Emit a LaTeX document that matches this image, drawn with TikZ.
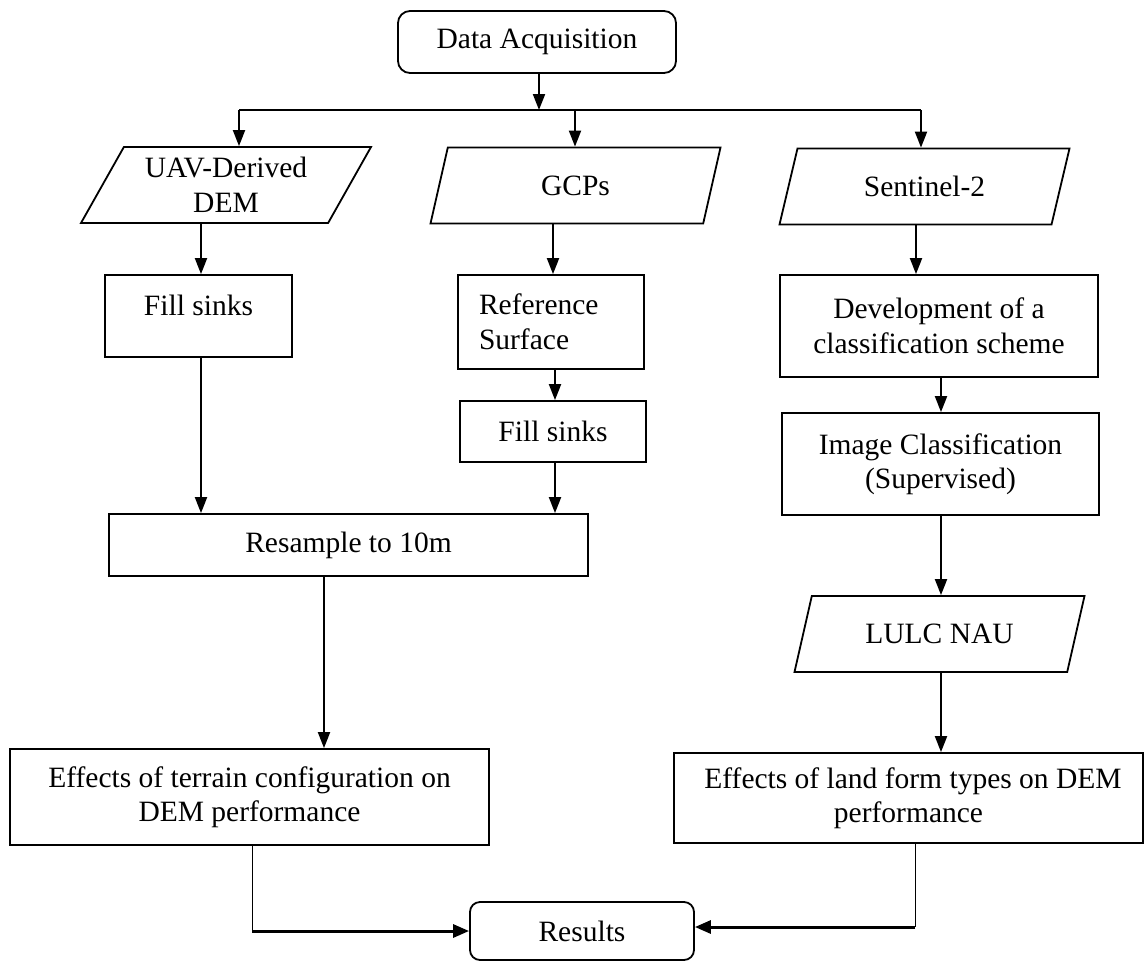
\documentclass[tikz,border=0pt]{standalone}
\usepackage{fontspec}
\setmainfont{Liberation Serif}
\usetikzlibrary{arrows.meta,shapes.geometric}
\begin{document}
\begin{tikzpicture}[x=1pt,y=-1pt,
  txt/.style={font=\fontsize{29.5pt}{34.5pt}\selectfont, align=center},
  box/.style={txt, draw, line width=1.8pt, inner sep=2pt},
  term/.style={box, rounded corners=12pt},
  para/.style={txt, draw, line width=1.8pt, shape=trapezium, trapezium left angle=54,
    trapezium right angle=126, trapezium stretches body=true, inner sep=2pt,
    minimum width=290pt, minimum height=76pt},
  arr/.style={line width=2pt, -{Triangle[length=16pt,width=12pt]}},
  ln/.style={line width=2pt},
  thin/.style={line width=1pt},
  thick/.style={line width=3pt, -{Triangle[length=16pt,width=13pt]}}
]
\useasboundingbox (0,0) rectangle (1146,962);

% nodes
\node[term, minimum width=278pt, minimum height=62pt] (da) at (537,42) {Data Acquisition};
\node[para] (uav) at (226,185) {UAV-Derived\\DEM};
\node[para] (gcp) at (575.5,185.5) {GCPs};
\node[para] (sen) at (924.5,186.5) {Sentinel-2};
\node[box, minimum width=187pt, minimum height=82pt, text depth=22pt] (fs1) at (198.5,316) {Fill sinks};
\node[box, minimum width=186pt, minimum height=94pt, text width=144pt, align=left] (ref) at (551,322) {Reference\\Surface};
\node[box, minimum width=318pt, minimum height=102pt] (dev) at (939,326) {Development of a\\classification scheme};
\node[box, minimum width=186pt, minimum height=61pt] (fs2) at (553,431.5) {Fill sinks};
\node[box, minimum width=317pt, minimum height=102pt] (img) at (940.5,464) {Image Classification\\(Supervised)};
\node[box, minimum width=479pt, minimum height=62pt] (res) at (348.5,545) {Resample to 10m};
\node[para] (lulc) at (939.5,634) {LULC NAU};
\node[box, minimum width=479pt, minimum height=96pt] (ter) at (249.5,797) {Effects of terrain configuration on\\DEM performance};
\node[box, minimum width=469pt, minimum height=90pt] (land) at (908.5,798) {\hspace*{9pt}Effects of land form types on DEM\\performance};
\node[term, minimum width=224pt, minimum height=58pt, rounded corners=10pt] (out) at (582,931) {Results};

% connector coordinates
\coordinate (busc) at (539,110);
\coordinate (bL) at (239,110);
\coordinate (bM) at (575,110);
\coordinate (bR) at (921,110);
\coordinate (xa) at (201,0);
\coordinate (xb) at (553,0);
\coordinate (xc) at (916,0);
\coordinate (xd) at (555,0);
\coordinate (xe) at (941,0);
\coordinate (xf) at (324,0);
\coordinate (k1) at (252,931);
\coordinate (k2) at (915,927);

% connectors
\draw[arr] (da.south -| busc) -- (busc);
\draw[ln] (bL) -- (bR);
\draw[arr] (bL) -- (bL |- uav.north);
\draw[arr] (bM) -- (bM |- gcp.north);
\draw[arr] (bR) -- (bR |- sen.north);
\draw[arr] (uav.south -| xa) -- (fs1.north -| xa);
\draw[arr] (gcp.south -| xb) -- (ref.north -| xb);
\draw[arr] (sen.south -| xc) -- (dev.north -| xc);
\draw[arr] (ref.south -| xd) -- (fs2.north -| xd);
\draw[arr] (fs1.south -| xa) -- (res.north -| xa);
\draw[arr] (fs2.south -| xd) -- (res.north -| xd);
\draw[arr] (dev.south -| xe) -- (img.north -| xe);
\draw[arr] (img.south -| xe) -- (lulc.north -| xe);
\draw[arr] (res.south -| xf) -- (ter.north -| xf);
\draw[arr] (lulc.south -| xe) -- (land.north -| xe);
\draw[thin] (ter.south -| k1) -- (k1);
\draw[thick] (k1) -- (k1 -| out.west);
\draw[thin] (land.south -| k2) -- (k2);
\draw[thick] (k2) -- (k2 -| out.east);
\end{tikzpicture}
\end{document}
